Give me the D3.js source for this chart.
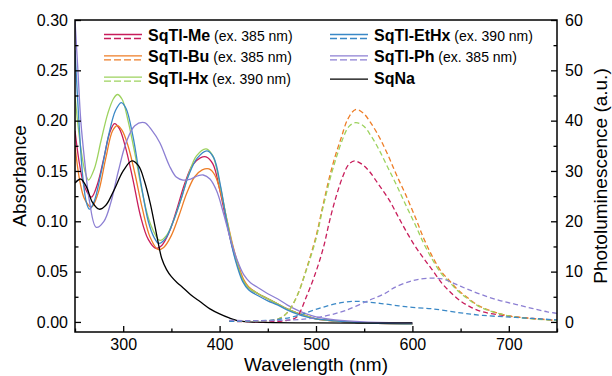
<!DOCTYPE html>
<html>
<head>
<meta charset="utf-8">
<script src="https://cdn.jsdelivr.net/npm/d3@7"></script>
<style>
  body { margin: 0; background: #fff; }
  svg { font-family: "Liberation Sans", Arial, sans-serif; }
</style>
</head>
<body>
<div id="chart"></div>
<script>
// absorbance (left axis), [wavelength nm, absorbance]
const absMe = [[250,0.19],[255,0.155],[260,0.134],[267,0.124],[273,0.136],[280,0.163],[286,0.188],[291,0.197],[296,0.192],[302,0.175],[310,0.142],[318,0.105],[326,0.082],[334,0.073],[340,0.076],[348,0.09],[356,0.113],[364,0.138],[372,0.156],[380,0.163],[386,0.164],[393,0.157],[400,0.132],[407,0.1],[413,0.075],[418,0.058],[424,0.042],[430,0.034],[440,0.028],[450,0.023],[460,0.018],[470,0.013],[480,0.009],[490,0.006],[500,0.003],[520,0.001],[550,-0.001],[600,-0.002]];
const absBu = [[250,0.175],[255,0.14],[260,0.122],[267,0.114],[274,0.128],[282,0.163],[289,0.19],[294,0.195],[299,0.19],[305,0.175],[312,0.148],[320,0.112],[328,0.084],[336,0.072],[342,0.074],[350,0.086],[358,0.106],[366,0.128],[374,0.144],[382,0.151],[389,0.152],[395,0.146],[402,0.125],[408,0.1],[414,0.075],[419,0.058],[425,0.042],[430,0.035],[440,0.028],[450,0.023],[460,0.018],[470,0.013],[480,0.009],[490,0.006],[500,0.003],[520,0.001],[550,-0.001],[600,-0.002]];
const absHx = [[250,0.225],[255,0.18],[260,0.151],[264,0.141],[270,0.152],[277,0.18],[284,0.207],[290,0.222],[294,0.226],[299,0.221],[305,0.2],[312,0.168],[320,0.128],[328,0.098],[338,0.081],[345,0.086],[352,0.1],[360,0.122],[368,0.147],[376,0.165],[386,0.172],[393,0.165],[400,0.138],[407,0.104],[413,0.077],[418,0.059],[424,0.042],[430,0.034],[440,0.028],[450,0.023],[460,0.018],[470,0.013],[480,0.009],[490,0.006],[500,0.003],[520,0.001],[550,-0.001],[600,-0.002]];
const absEtHx = [[250,0.27],[254,0.2],[258,0.145],[262,0.118],[265,0.112],[270,0.12],[277,0.148],[285,0.186],[292,0.21],[298,0.218],[303,0.212],[310,0.185],[318,0.14],[326,0.1],[332,0.084],[337,0.078],[344,0.083],[352,0.1],[360,0.122],[368,0.146],[377,0.163],[387,0.17],[394,0.163],[401,0.135],[407,0.102],[413,0.074],[418,0.056],[424,0.04],[430,0.032],[440,0.026],[450,0.021],[460,0.017],[470,0.012],[480,0.008],[490,0.005],[500,0.003],[520,0.001],[550,-0.001],[600,-0.002]];
const absPh = [[250,0.30],[253,0.25],[256,0.2],[260,0.16],[265,0.12],[272,0.094],[280,0.1],[287,0.118],[295,0.15],[303,0.178],[312,0.195],[322,0.198],[330,0.19],[338,0.178],[348,0.155],[355,0.144],[362,0.141],[370,0.142],[377,0.145],[383,0.146],[390,0.142],[397,0.13],[404,0.108],[411,0.083],[418,0.062],[425,0.047],[432,0.039],[440,0.034],[450,0.028],[460,0.023],[470,0.017],[480,0.012],[490,0.008],[500,0.005],[520,0.002],[550,0],[600,-0.001]];
const absNa = [[250,0.138],[256,0.142],[262,0.134],[268,0.119],[275,0.112],[282,0.116],[290,0.13],[300,0.15],[309,0.16],[316,0.155],[322,0.14],[328,0.118],[334,0.09],[340,0.063],[345,0.052],[350,0.045],[356,0.039],[362,0.034],[370,0.027],[380,0.02],[390,0.013],[400,0.008],[410,0.004],[420,0.001],[430,0],[500,-0.001],[600,-0.001]];

// photoluminescence (right axis), [wavelength nm, intensity a.u.]
const plMe = [[410,0.1],[450,0.1],[470,0.3],[480,1.0],[490,5],[500,10],[508,15],[514,20],[521,25],[528,29],[534,31.3],[540,32],[548,31.3],[555,30],[565,27.3],[576,24.2],[585,21],[593,18.2],[602,15.3],[611,12.8],[620,10.5],[631,7.6],[640,5.8],[649,4.3],[660,3.0],[673,2.0],[690,1.4],[707,1.0],[730,0.6],[750,0.3]];
const plBu = [[410,0.2],[440,0.2],[460,0.5],[470,1.8],[480,5],[490,10.5],[500,17],[507,23],[514,28.8],[520,33],[526,36.5],[533,40.3],[541,42.2],[549,41.5],[557,39.5],[566,36.6],[575,33],[584,29],[593,25.3],[603,20.8],[612,16.5],[621,12.9],[630,10],[638,8.3],[647,6.4],[656,5],[668,3.3],[680,2.3],[700,1.2],[724,0.7],[750,0.3]];
const plHx = [[410,0.2],[440,0.2],[460,0.5],[470,1.8],[480,5],[490,10.3],[500,16.5],[507,22.5],[514,28],[520,32],[527,36],[534,38.8],[541,39.6],[549,39],[557,37],[566,34],[575,30.5],[584,27],[593,23.3],[603,19.3],[612,15.5],[621,12.3],[630,9.6],[638,8.0],[647,6.2],[656,4.8],[668,3.2],[680,2.2],[700,1.2],[724,0.6],[750,0.3]];
const plEtHx = [[410,0.1],[450,0.3],[465,0.6],[480,1.2],[497,2.3],[514,3.3],[528,3.9],[540,4.1],[550,4.0],[566,3.7],[586,3.2],[600,2.9],[621,2.6],[650,1.8],[673,1.3],[707,0.9],[750,0.4]];
const plPh = [[410,0.3],[460,0.3],[490,0.6],[510,1.2],[531,2.3],[555,4.3],[570,5.5],[583,7.0],[597,8.0],[607,8.5],[621,8.7],[632,8.5],[645,7.5],[656,6.6],[672,5.4],[690,4.3],[707,3.5],[724,2.7],[740,2.0],[750,1.7]];

const xTicks = [300, 400, 500, 600, 700];
const absTicks = [0, 0.05, 0.10, 0.15, 0.20, 0.25, 0.30];
const plTicks = [0, 10, 20, 30, 40, 50, 60];

const compounds = [
  {name: "SqTl-Me",   ex: " (ex. 385 nm)", color: "#c81d5b", abs: absMe,   pl: plMe},
  {name: "SqTl-Bu",   ex: " (ex. 385 nm)", color: "#ee7d26", abs: absBu,   pl: plBu},
  {name: "SqTl-Hx",   ex: " (ex. 390 nm)", color: "#9dd25e", abs: absHx,   pl: plHx},
  {name: "SqTl-EtHx", ex: " (ex. 390 nm)", color: "#3a88c6", abs: absEtHx, pl: plEtHx},
  {name: "SqTl-Ph",   ex: " (ex. 385 nm)", color: "#8c7fd3", abs: absPh,   pl: plPh},
  {name: "SqNa",      ex: "",              color: "#000000", abs: absNa,   pl: null}
];

const width = 612, height = 376;
const margin = {top: 20, right: 55, bottom: 44, left: 75};

const svg = d3.select("#chart").append("svg")
  .attr("width", width)
  .attr("height", height);

const x = d3.scaleLinear().domain([250, 750]).range([margin.left, width - margin.right]);
const yA = d3.scaleLinear().domain([-0.01, 0.30]).range([height - margin.bottom, margin.top]);
const yP = d3.scaleLinear().domain([-2, 60]).range([height - margin.bottom, margin.top]);

svg.append("clipPath").attr("id", "plot")
  .append("rect")
  .attr("x", margin.left).attr("y", margin.top)
  .attr("width", width - margin.left - margin.right)
  .attr("height", height - margin.top - margin.bottom);

const lines = svg.append("g").attr("clip-path", "url(#plot)");

const absLine = d3.line().x(d => x(d[0])).y(d => yA(d[1])).curve(d3.curveCatmullRom.alpha(0.5));
const plLine = d3.line().x(d => x(d[0])).y(d => yP(d[1])).curve(d3.curveCatmullRom.alpha(0.5));

compounds.forEach(c => {
  lines.append("path")
    .attr("d", absLine(c.abs))
    .attr("fill", "none")
    .attr("stroke", c.color)
    .attr("stroke-width", 1.3);
});
compounds.filter(c => c.pl).forEach(c => {
  lines.append("path")
    .attr("d", plLine(c.pl))
    .attr("fill", "none")
    .attr("stroke", c.color)
    .attr("stroke-width", 1.3)
    .attr("stroke-dasharray", "5,3");
});

// axes, ticks point inward
const bottom = height - margin.bottom, right = width - margin.right;

function styleAxis(g) {
  g.select(".domain").remove();
  g.selectAll("line").attr("stroke", "#000").attr("stroke-width", 1.3);
  g.selectAll("text").attr("font-size", 16).attr("fill", "#000");
}

svg.append("g").attr("transform", `translate(0,${bottom})`)
  .call(d3.axisBottom(x).tickValues(xTicks).tickSizeInner(-6).tickSizeOuter(0).tickPadding(7))
  .call(styleAxis);
svg.append("g").attr("transform", `translate(0,${bottom})`)
  .call(d3.axisBottom(x).tickValues(d3.range(250, 751, 50).filter(v => v % 100 !== 0)).tickSizeInner(-3.5).tickSizeOuter(0).tickFormat(""))
  .call(styleAxis);

svg.append("g").attr("transform", `translate(${margin.left},0)`)
  .call(d3.axisLeft(yA).tickValues(absTicks).tickSizeInner(-6).tickSizeOuter(0).tickPadding(7).tickFormat(d3.format(".2f")))
  .call(styleAxis);
svg.append("g").attr("transform", `translate(${margin.left},0)`)
  .call(d3.axisLeft(yA).tickValues(d3.range(0.025, 0.3, 0.05)).tickSizeInner(-3.5).tickSizeOuter(0).tickFormat(""))
  .call(styleAxis);

svg.append("g").attr("transform", `translate(${right},0)`)
  .call(d3.axisRight(yP).tickValues(plTicks).tickSizeInner(-6).tickSizeOuter(0).tickPadding(8))
  .call(styleAxis);
svg.append("g").attr("transform", `translate(${right},0)`)
  .call(d3.axisRight(yP).tickValues(d3.range(5, 60, 10)).tickSizeInner(-3.5).tickSizeOuter(0).tickFormat(""))
  .call(styleAxis);

svg.append("rect")
  .attr("x", margin.left).attr("y", margin.top)
  .attr("width", right - margin.left).attr("height", bottom - margin.top)
  .attr("fill", "none").attr("stroke", "#000").attr("stroke-width", 1.5);

// axis titles
svg.append("text")
  .attr("x", (margin.left + right) / 2).attr("y", 371)
  .attr("text-anchor", "middle").attr("font-size", 19)
  .text("Wavelength (nm)");
svg.append("text")
  .attr("transform", `translate(26,${(margin.top + bottom) / 2}) rotate(-90)`)
  .attr("text-anchor", "middle").attr("font-size", 19)
  .text("Absorbance");
svg.append("text")
  .attr("transform", `translate(607,${(margin.top + bottom) / 2}) rotate(-90)`)
  .attr("text-anchor", "middle").attr("font-size", 19)
  .text("Photoluminescence (a.u.)");

// legend, two columns
const legend = svg.append("g");
compounds.forEach((c, i) => {
  const col = i < 3 ? 0 : 1, row = i % 3;
  const x0 = col === 0 ? 104 : 330, base = 41 + row * 21.3;
  const g = legend.append("g");
  if (c.pl) {
    g.append("line").attr("x1", x0).attr("x2", x0 + 38).attr("y1", base - 6.5).attr("y2", base - 6.5)
      .attr("stroke", c.color).attr("stroke-width", 1.3);
    g.append("line").attr("x1", x0).attr("x2", x0 + 38).attr("y1", base - 2.5).attr("y2", base - 2.5)
      .attr("stroke", c.color).attr("stroke-width", 1.3).attr("stroke-dasharray", "7,3");
  } else {
    g.append("line").attr("x1", x0).attr("x2", x0 + 38).attr("y1", base - 4.5).attr("y2", base - 4.5)
      .attr("stroke", c.color).attr("stroke-width", 1.3);
  }
  const t = g.append("text").attr("x", x0 + 44).attr("y", base);
  t.append("tspan").attr("font-weight", "bold").attr("font-size", 16).text(c.name);
  t.append("tspan").attr("font-size", 14).text(c.ex);
});
</script>
</body>
</html>
